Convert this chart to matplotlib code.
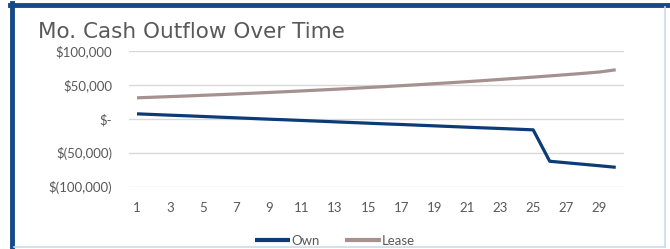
import matplotlib
matplotlib.use("Agg")
import matplotlib.pyplot as plt
from matplotlib.lines import Line2D

# months 1..30
months = list(range(1, 31))

own = [7400, 6400, 5400, 4500, 3500, 2500, 1500, 500, -500, -1400,
       -2400, -3400, -4400, -5400, -6400, -7400, -8300, -9300, -10300, -11300,
       -12300, -13300, -14200, -15200, -16200, -62500, -64700, -66900, -69100, -71400]

lease = [31000, 31900, 32800, 33700, 34700, 35700, 36700, 37800, 38900, 40000,
         41200, 42400, 43600, 44900, 46200, 47500, 48900, 50300, 51800, 53300,
         54800, 56400, 58100, 59800, 61500, 63300, 65100, 67000, 69000, 72300]

y_ticks = [100000, 50000, 0, -50000, -100000]
y_labels = ["$100,000", "$50,000", "$-", "$(50,000)", "$(100,000)"]
x_ticks = list(range(1, 30, 2))

NAVY = "#0c3b78"
MAUVE = "#a69191"
TXT = "#595959"

plt.rcParams["font.family"] = ["Lato", "DejaVu Sans"]

fig = plt.figure(figsize=(6.7, 2.49), dpi=100)
fig.patch.set_facecolor("white")
ax = fig.add_axes([128.75 / 670, 1 - 186.7 / 249, (624 - 128.75) / 670, (186.7 - 51) / 249])

ax.plot(months, own, color=NAVY, lw=2.3, label="Own", solid_capstyle="butt")
ax.plot(months, lease, color=MAUVE, lw=2.3, label="Lease", solid_capstyle="butt")

ax.set_xlim(0.5, 30.5)
ax.set_ylim(-100000, 100000)
ax.set_yticks(y_ticks)
ax.set_yticklabels(y_labels)
ax.set_xticks(x_ticks)
ax.grid(axis="y", color="#d9d9d9", lw=1)
ax.set_axisbelow(True)
for s in ax.spines.values():
    s.set_visible(False)
ax.tick_params(length=0, colors=TXT, labelsize=9.5)
ax.tick_params(axis="y", pad=12)
ax.tick_params(axis="x", pad=11)

fig.text(38 / 670, 1 - 38 / 249, "Mo. Cash Outflow Over Time", fontsize=15.5,
         color=TXT, ha="left", va="baseline", family=["DejaVu Sans"])

leg = fig.legend(loc="center", bbox_to_anchor=(0.5, 1 - 241 / 249),
                 ncol=2, frameon=False, fontsize=9.5, handlelength=2.7,
                 handletextpad=0.1, columnspacing=1.9, borderpad=0)
for line in leg.get_lines():
    line.set_linewidth(3)
for t in leg.get_texts():
    t.set_color(TXT)

# frame around the chart
fig.add_artist(Line2D([12 / 670, 12 / 670], [0, 1 - 3 / 249], transform=fig.transFigure,
                      color="#154a8a", lw=3.5))
fig.add_artist(Line2D([10 / 670, 1], [1 - 5 / 249, 1 - 5 / 249], transform=fig.transFigure,
                      color="#154a8a", lw=3.5))
fig.add_artist(Line2D([665 / 670, 665 / 670], [1 - 7 / 249, 1 - 247 / 249],
                      transform=fig.transFigure, color="#c9dcef", lw=1.2))
fig.add_artist(Line2D([14 / 670, 665 / 670], [1 - 247 / 249, 1 - 247 / 249],
                      transform=fig.transFigure, color="#c9dcef", lw=1.2))

fig.savefig("out.png", dpi=100, facecolor="white")
